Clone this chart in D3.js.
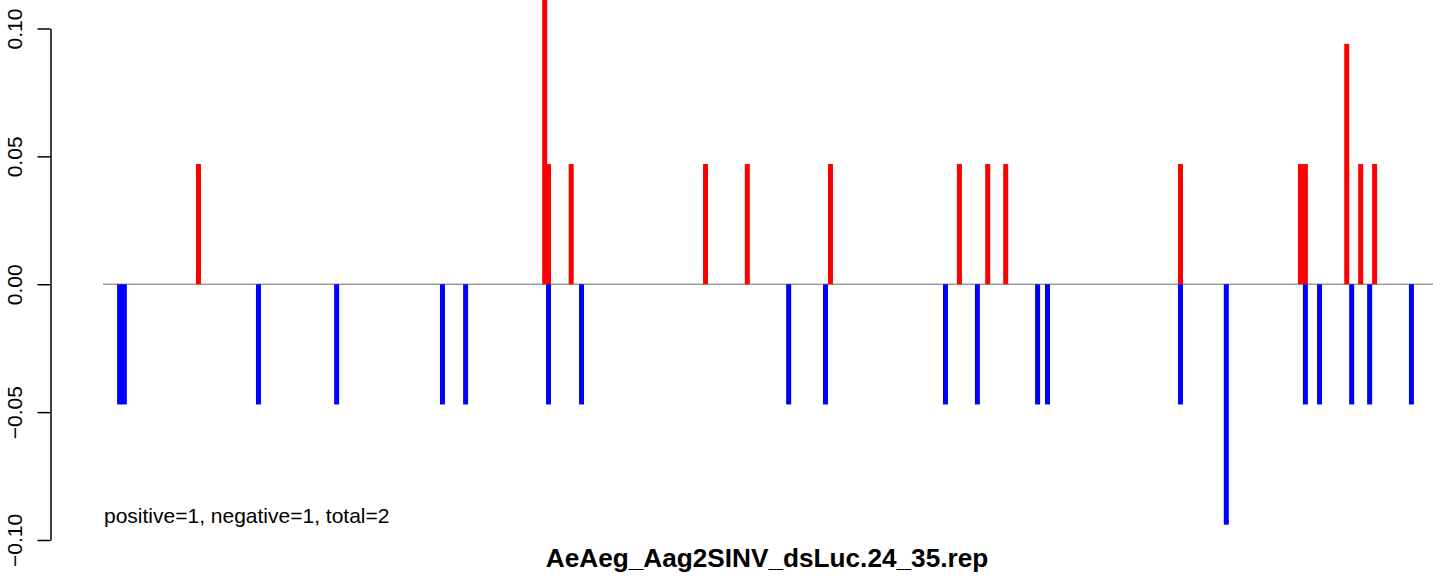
<!DOCTYPE html>
<html>
<head>
<meta charset="utf-8">
<script src="https://cdn.jsdelivr.net/npm/d3@7"></script>
<style>
  html, body { margin: 0; padding: 0; background: #fff; }
  svg { display: block; }
  text { font-family: "Liberation Sans", Arial, Helvetica, sans-serif; fill: #000; }
</style>
</head>
<body>
<div id="chart"></div>
<script>
// ---- data (positions in sequence units, values as fractions) ----
const posPositions = [21.25, 98.3, 99.15, 104.2, 134.1, 143.4, 161.9, 190.6, 196.9, 200.9, 239.8, 266.5, 267.6, 276.8, 279.9, 283.0];
const posValues    = [0.047, 0.141, 0.047, 0.047, 0.047, 0.047, 0.047, 0.047, 0.047, 0.047, 0.047, 0.047, 0.047, 0.094, 0.047, 0.047];
const negPositions = [3.7, 4.75, 34.6, 52.0, 75.55, 80.7, 99.15, 106.5, 152.6, 160.8, 187.5, 194.6, 208.0, 210.2, 239.8, 250.0, 267.6, 270.75, 277.9, 281.9, 291.2];
const negValues    = [-0.047, -0.047, -0.047, -0.047, -0.047, -0.047, -0.047, -0.047, -0.047, -0.047, -0.047, -0.047, -0.047, -0.047, -0.047, -0.094, -0.047, -0.047, -0.047, -0.047, -0.047];
const yTicks = [-0.10, -0.05, 0.00, 0.05, 0.10];
const xDomain = [0, 296];
const yDomain = [-0.10, 0.10];
const titleText = "AeAeg_Aag2SINV_dsLuc.24_35.rep";
const noteText = "positive=1, negative=1, total=2";

const W = 1444, H = 576;
const svg = d3.select("#chart").append("svg").attr("width", W).attr("height", H);

const x = d3.scaleLinear().domain(xDomain).range([103, 1433]);
const y = d3.scaleLinear().domain(yDomain).range([540, 28.5]);
const barW = 5;

// baseline
svg.append("line")
  .attr("x1", x(xDomain[0])).attr("x2", x(xDomain[1]))
  .attr("y1", y(0)).attr("y2", y(0))
  .attr("stroke", "#9a9a9a").attr("stroke-width", 1.5);

const posData = posPositions.map((p, i) => ({p, v: posValues[i]}));
const negData = negPositions.map((p, i) => ({p, v: negValues[i]}));

svg.append("g").selectAll("rect").data(posData).join("rect")
  .attr("x", d => x(d.p) - barW / 2)
  .attr("width", barW)
  .attr("y", d => y(d.v))
  .attr("height", d => y(0) - y(d.v))
  .attr("fill", "#ff0000");

svg.append("g").selectAll("rect").data(negData).join("rect")
  .attr("x", d => x(d.p) - barW / 2)
  .attr("width", barW)
  .attr("y", y(0))
  .attr("height", d => y(d.v) - y(0))
  .attr("fill", "#0000ff");

// y axis
const fmt = d => (d < 0 ? "\u2212" : "") + Math.abs(d).toFixed(2);
const axis = d3.axisLeft(y).tickValues(yTicks).tickSize(13).tickSizeOuter(0).tickFormat(fmt);
const gAxis = svg.append("g").attr("transform", "translate(50.5,0)").call(axis);
gAxis.select(".domain").attr("stroke", "#000").attr("stroke-width", 1.5);
gAxis.selectAll(".tick line").attr("stroke", "#000").attr("stroke-width", 1.5);
gAxis.selectAll(".tick text").remove();
gAxis.selectAll(".tick").append("text")
  .attr("transform", "translate(-28.5,0) rotate(-90)")
  .attr("text-anchor", "middle")
  .attr("font-size", 21)
  .attr("fill", "#000")
  .text(fmt);

// annotation
svg.append("text")
  .attr("x", 104).attr("y", 523)
  .attr("font-size", 21)
  .text(noteText);

// title
svg.append("text")
  .attr("x", 767).attr("y", 567)
  .attr("text-anchor", "middle")
  .attr("font-size", 26.2)
  .attr("font-weight", "bold")
  .text(titleText);
</script>
</body>
</html>
